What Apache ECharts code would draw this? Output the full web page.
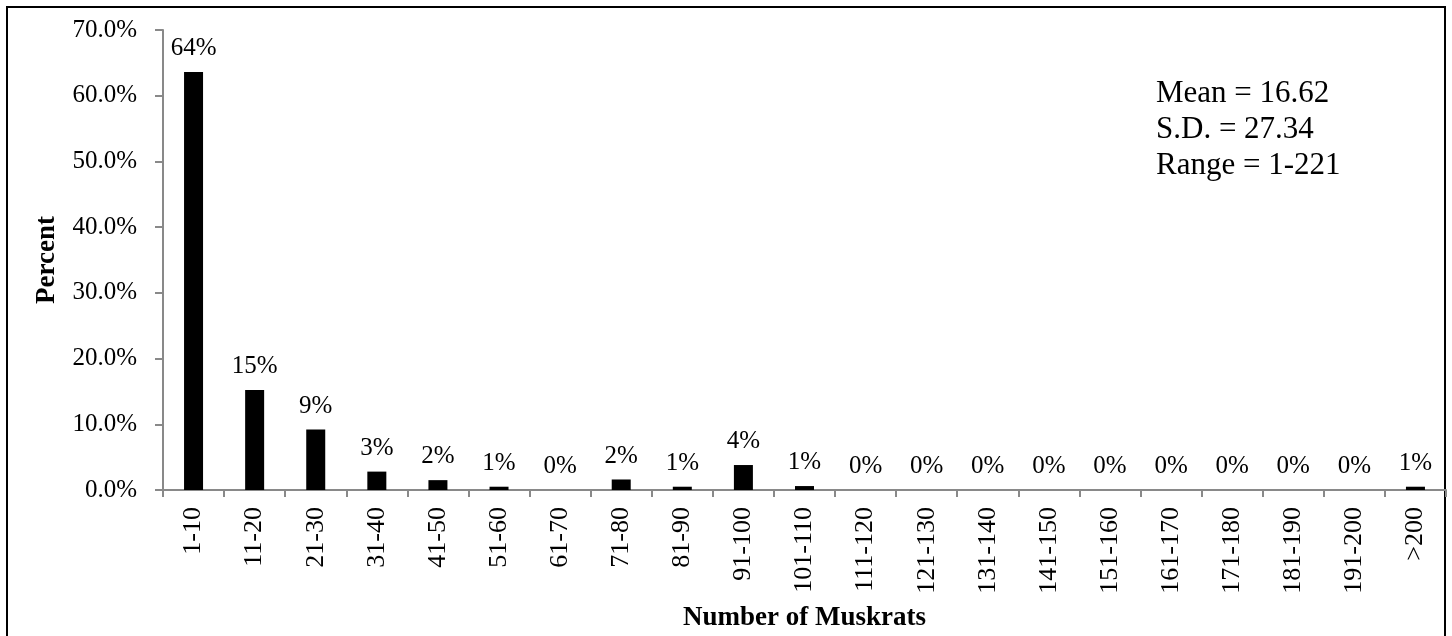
<!DOCTYPE html>
<html lang="en">
<head>
    <meta charset="UTF-8">
    <title>Number of Muskrats</title>
    <script src="https://cdn.jsdelivr.net/npm/echarts@6/dist/echarts.min.js"></script>
    <style>
        html, body { margin: 0; padding: 0; background: #fff; }
    </style>
</head>
<body>
    <div id="main" style="width:1452px;height:636px;"></div>

    <script>
        // categories (number of muskrats per observation)
        const categories = ['1-10', '11-20', '21-30', '31-40', '41-50', '51-60', '61-70', '71-80',
            '81-90', '91-100', '101-110', '111-120', '121-130', '131-140', '141-150', '151-160',
            '161-170', '171-180', '181-190', '191-200', '>200'];
        const percents = [63.6, 15.2, 9.2, 2.8, 1.5, 0.5, 0, 1.6, 0.5, 3.8, 0.6,
            0, 0, 0, 0, 0, 0, 0, 0, 0, 0.5];
        const statLines = ['Mean = 16.62', 'S.D. = 27.34', 'Range = 1-221'];

        const serif = "'Liberation Serif', 'Times New Roman', serif";
        const axisGrey = '#898989';

        const option = {
            backgroundColor: '#fff',
            animation: false,
            grid: { left: 163, right: 6, top: 30, bottom: 146, outerBoundsMode: 'none' },
            xAxis: {
                type: 'category',
                data: categories,
                name: 'Number of Muskrats',
                nameLocation: 'middle',
                nameGap: 115,
                nameTextStyle: { fontFamily: serif, fontSize: 27, fontWeight: 'bold', color: '#000' },
                axisLine: { lineStyle: { color: axisGrey, width: 2 } },
                axisTick: { show: true, length: 7, lineStyle: { color: axisGrey, width: 2 } },
                axisLabel: {
                    rotate: 90, margin: 17, interval: 0,
                    fontFamily: serif, fontSize: 26, color: '#000'
                }
            },
            yAxis: {
                type: 'value',
                min: 0, max: 70, interval: 10,
                name: 'Percent',
                nameLocation: 'middle',
                nameGap: 102,
                nameRotate: 90,
                nameTextStyle: { fontFamily: serif, fontSize: 27, fontWeight: 'bold', color: '#000' },
                splitLine: { show: false },
                axisLine: { show: true, lineStyle: { color: axisGrey, width: 2 } },
                axisTick: { show: true, length: 8, lineStyle: { color: axisGrey, width: 2 } },
                axisLabel: {
                    margin: 26, fontFamily: serif, fontSize: 25, color: '#000',
                    formatter: function (v) { return v.toFixed(1) + '%'; }
                }
            },
            series: [{
                type: 'bar',
                data: percents,
                barWidth: 19,
                itemStyle: { color: '#000' },
                label: {
                    show: true, position: 'top', distance: 11,
                    fontFamily: serif, fontSize: 25, color: '#000',
                    formatter: function (p) { return Math.round(p.value) + '%'; }
                }
            }],
            graphic: [
                {
                    type: 'rect', silent: true,
                    shape: { x: 7, y: 7, width: 1438, height: 640 },
                    style: { fill: null, stroke: '#000', lineWidth: 2 }
                }
            ].concat(statLines.map(function (t, i) {
                return {
                    type: 'text', silent: true,
                    left: 1156, top: 78 + i * 36,
                    style: { text: t, font: '31px ' + serif, fill: '#000' }
                };
            }))
        };

        const myChart = echarts.init(document.getElementById('main'));
        myChart.setOption(option);
    </script>
</body>
</html>
